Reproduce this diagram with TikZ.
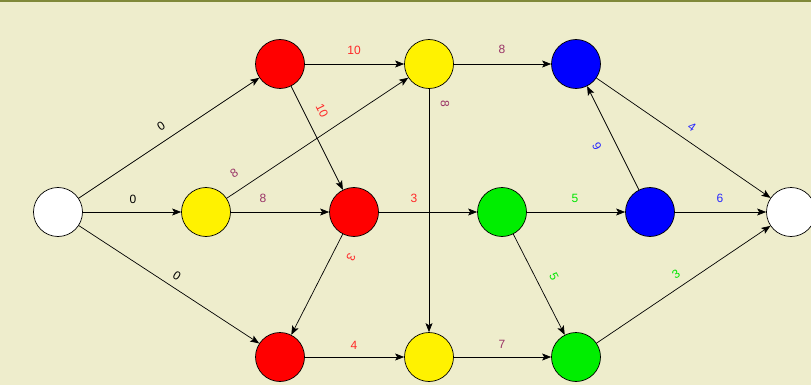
\documentclass[tikz,border=0pt]{standalone}
\usepackage{fontspec}
\setmainfont{Liberation Sans}
\usetikzlibrary{arrows.meta}
\definecolor{bgc}{RGB}{238,237,204}
\definecolor{olivebar}{RGB}{128,137,58}
\definecolor{lred}{RGB}{255,40,40}
\definecolor{lpurple}{RGB}{153,51,102}
\definecolor{lgreen}{RGB}{0,230,0}
\definecolor{lblue}{RGB}{40,40,255}
\definecolor{ngreen}{RGB}{0,238,0}
\begin{document}
\begin{tikzpicture}[x=1pt,y=-1pt,
  vert/.style={circle,draw=black,line width=0.7pt,minimum size=49pt,inner sep=0pt},
  edge/.style={draw=black,line width=0.7pt,-{Stealth[length=9pt,width=7pt,inset=2pt]}},
  lab/.style={font=\fontsize{12}{12}\selectfont,inner sep=0pt}]
\useasboundingbox (0,0) rectangle (811,385);
\fill[bgc] (0,0) rectangle (811,385);
\fill[olivebar] (0,0) rectangle (811,2.5);
% nodes
\node[vert,fill=white]  (s) at (58,212) {};
\node[vert,fill=red]    (a) at (280,64) {};
\node[vert,fill=yellow] (b) at (206,212) {};
\node[vert,fill=yellow] (c) at (429,64) {};
\node[vert,fill=red]    (d) at (354,212) {};
\node[vert,fill=blue]   (e) at (576,64) {};
\node[vert,fill=ngreen] (f) at (502,212) {};
\node[vert,fill=blue]   (g) at (650,212) {};
\node[vert,fill=white]  (t) at (791,212) {};
\node[vert,fill=red]    (h) at (280,357) {};
\node[vert,fill=yellow] (i) at (429,357) {};
\node[vert,fill=ngreen] (j) at (576,357) {};
% edges
\draw[edge] (s) -- (a);
\draw[edge] (s) -- (b);
\draw[edge] (s) -- (h);
\draw[edge] (a) -- (c);
\draw[edge] (a) -- (d);
\draw[edge] (b) -- (c);
\draw[edge] (b) -- (d);
\draw[edge] (c) -- (e);
\draw[edge] (c) -- (i);
\draw[edge] (d) -- (f);
\draw[edge] (d) -- (h);
\draw[edge] (f) -- (g);
\draw[edge] (f) -- (j);
\draw[edge] (g) -- (e);
\draw[edge] (g) -- (t);
\draw[edge] (e) -- (t);
\draw[edge] (h) -- (i);
\draw[edge] (i) -- (j);
\draw[edge] (j) -- (t);
% labels
\node[lab,text=black,rotate=33.9]    (lsa) at (161,126) {0};
\node[lab,text=black]                (lsb) at (133,199) {0};
\node[lab,text=black,rotate=-33.2]   (lsh) at (177,276) {0};
\node[lab,text=lred]                 (lac) at (354,50) {10};
\node[lab,text=lred,rotate=-63.6]    (lad) at (322,111) {10};
\node[lab,text=lpurple,rotate=33.7]  (lbc) at (234,173) {8};
\node[lab,text=lpurple]              (lbd) at (263,198) {8};
\node[lab,text=lpurple]              (lce) at (502,49) {8};
\node[lab,text=lpurple,rotate=-90]   (lci) at (445,104) {8};
\node[lab,text=lred]                 (ldf) at (414,198) {3};
\node[lab,text=lred,rotate=-117]     (ldh) at (351,257) {3};
\node[lab,text=lgreen]               (lfg) at (575,198) {5};
\node[lab,text=lgreen,rotate=-63]    (lfj) at (554,277) {5};
\node[lab,text=lblue,rotate=116.4]   (lge) at (597,146) {6};
\node[lab,text=lblue]                (lgt) at (720,198) {6};
\node[lab,text=lblue,rotate=-34.7]   (let) at (692,127) {4};
\node[lab,text=lred]                 (lhi) at (354,345) {4};
\node[lab,text=lpurple]              (lij) at (502,344) {7};
\node[lab,text=lgreen,rotate=34.7]   (ljt) at (676,274) {3};
\end{tikzpicture}
\end{document}
